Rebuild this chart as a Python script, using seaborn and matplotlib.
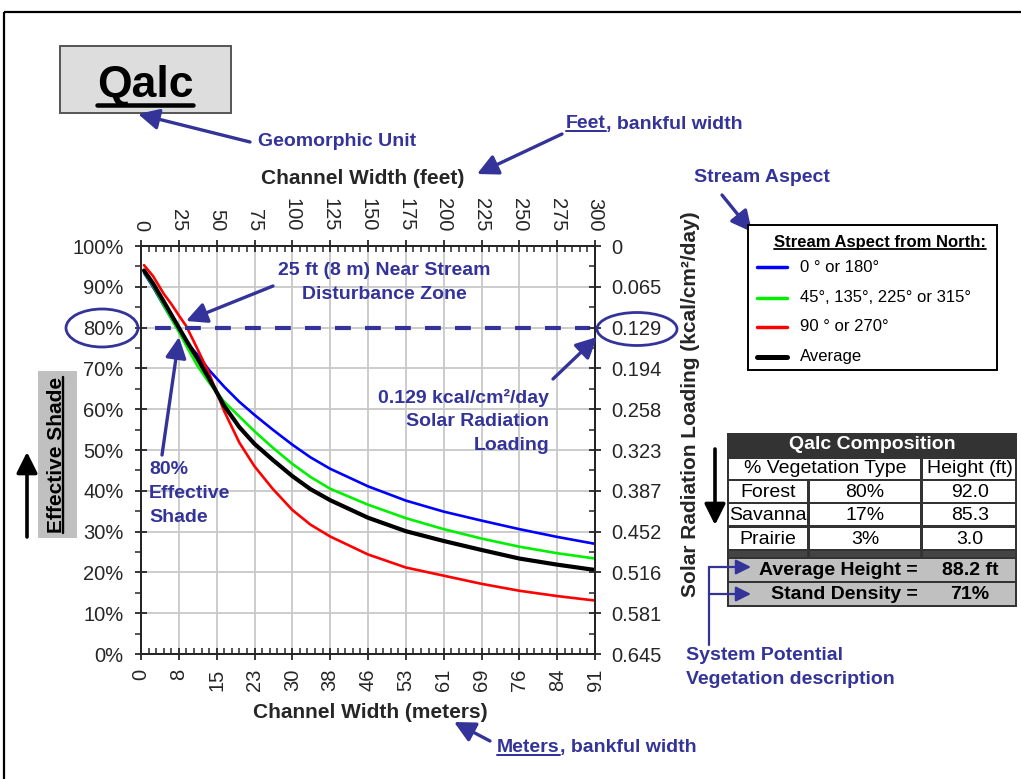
import numpy as np
import pandas as pd
import matplotlib
matplotlib.use("Agg")
import matplotlib.pyplot as plt
import seaborn as sns
from matplotlib.patches import Rectangle, Ellipse, FancyArrowPatch
from matplotlib.lines import Line2D
from matplotlib.transforms import Affine2D, IdentityTransform
from matplotlib.ticker import MultipleLocator, FuncFormatter

# ---------------------------------------------------------------- data
width_ft = [2, 8, 15, 20, 25, 30, 37, 45, 55, 65, 75, 87, 100, 112, 125,
            150, 175, 200, 225, 250, 275, 300]
shade_0_180 = [93.4, 89.9, 85.4, 82.3, 79.2, 76.4, 73.5, 69.6, 65.5, 61.8, 58.6,
               55.0, 51.3, 48.2, 45.4, 41.1, 37.6, 34.9, 32.7, 30.6, 28.7, 27.0]
shade_45_135 = [93.6, 90.2, 85.5, 82.2, 79.0, 75.5, 70.8, 66.5, 61.8, 58.2, 54.6,
                50.6, 46.6, 43.4, 40.5, 36.6, 33.3, 30.6, 28.3, 26.3, 24.7, 23.4]
shade_90_270 = [95.3, 92.6, 88.3, 85.8, 83.0, 80.3, 75.0, 68.8, 59.5, 51.8, 46.0,
                40.5, 35.3, 31.7, 28.8, 24.4, 21.2, 19.2, 17.2, 15.5, 14.2, 13.1]
shade_average = [94.0, 90.8, 86.4, 83.2, 80.0, 76.8, 72.6, 67.5, 60.8, 55.6, 51.5,
                 47.6, 43.6, 40.4, 37.7, 33.4, 30.1, 27.7, 25.5, 23.4, 21.9, 20.6]

aspect_labels = ["0 ° or 180°", "45°, 135°, 225° or 315°", "90 ° or 270°", "Average"]
aspect_colors = ["#0000FF", "#00F000", "#FF0000", "#000000"]
aspect_widths = [1.9, 1.9, 1.9, 3.0]

target_shade = 80          # percent effective shade
target_load = "0.129"

ft_ticks = list(range(0, 301, 25))
ft_tick_labels = ["0", "25", "50", "75", "100", "125", "150", "175", "200",
                  "225", "250", "275", "300"]
meter_tick_labels = ["0", "8", "15", "23", "30", "38", "46", "53", "61", "69",
                     "76", "84", "91"]
shade_ticks = list(range(0, 101, 10))
solar_load_labels = ["0.645", "0.581", "0.516", "0.452", "0.387", "0.323",
                     "0.258", "0.194", "0.129", "0.065", "0"]

veg_types = ["Forest", "Savanna", "Prairie"]
veg_percent = ["80%", "17%", "3%"]
veg_height = ["92.0", "85.3", "3.0"]
average_height = "88.2 ft"
stand_density = "71%"
unit_name = "Qalc"

# ---------------------------------------------------------------- style
sns.set_style("white")
plt.rcParams["font.family"] = ["Liberation Sans", "DejaVu Sans"]
ANN = "#333399"

W, H = 1021, 779
fig = plt.figure(figsize=(W / 100, H / 100), dpi=100)
fig.patch.set_facecolor("white")
# pixel coordinates, origin at the top-left corner
PX = Affine2D().scale(1 / W, -1 / H).translate(0, 1) + fig.transFigure
renderer = fig.canvas.get_renderer()
underlines = []


def ptext(x, y, s, **kw):
    kw.setdefault("fontsize", 14)
    kw.setdefault("fontweight", "bold")
    kw.setdefault("color", ANN)
    kw.setdefault("va", "center")
    return fig.text(x, y, s, transform=PX, **kw)


def parrow(tail, head, color=ANN, lw=2.4, ms=18):
    fig.add_artist(FancyArrowPatch(tail, head, transform=PX,
                                   arrowstyle="-|>,head_length=0.7,head_width=0.35",
                                   mutation_scale=ms, lw=lw, color=color,
                                   shrinkA=0, shrinkB=0))


def prect(x0, y0, x1, y1, fc, ec="none", lw=0, z=1):
    fig.add_artist(Rectangle((x0, y0), x1 - x0, y1 - y0, transform=PX,
                             facecolor=fc, edgecolor=ec, lw=lw, zorder=z))


# outer frame
fig.add_artist(Rectangle((4, 12), 1100, 900, transform=PX, fill=False,
                         edgecolor="black", lw=1.6))

# ---------------------------------------------------------------- main axes
ax = fig.add_axes([141 / W, 1 - 654 / H, 454 / W, 408 / H])
df = pd.DataFrame({
    "width_ft": width_ft * 4,
    "shade": shade_0_180 + shade_45_135 + shade_90_270 + shade_average,
    "aspect": sum([[lab] * len(width_ft) for lab in aspect_labels], []),
})
sns.lineplot(data=df, x="width_ft", y="shade", hue="aspect", size="aspect",
             hue_order=aspect_labels, size_order=aspect_labels,
             palette=dict(zip(aspect_labels, aspect_colors)),
             sizes=dict(zip(aspect_labels, aspect_widths)),
             estimator=None, sort=False, legend=False, ax=ax, zorder=3)
ax.hlines(target_shade, 9, 297, colors=ANN, lw=3.0, linestyles=(0, (3.8, 3.4)),
          zorder=4)

ax.set_xlim(0, 300)
ax.set_ylim(0, 100)
ax.set_xticks(ft_ticks, labels=meter_tick_labels)
ax.set_yticks(shade_ticks)
ax.yaxis.set_major_formatter(FuncFormatter(lambda v, p: f"{v:.0f}%"))
ax.xaxis.set_minor_locator(MultipleLocator(5))
ax.yaxis.set_minor_locator(MultipleLocator(5))
ax.grid(True, which="major", color="#C8C8C8", lw=1.3)
ax.set_axisbelow(True)
for s in ax.spines.values():
    s.set_color("black")
    s.set_linewidth(1.4)
ax.tick_params(axis="x", which="major", direction="inout", length=9, width=1.3,
               labelsize=14.5, labelrotation=90, pad=6)
ax.tick_params(axis="x", which="minor", direction="in", length=4.5, width=1.1)
ax.tick_params(axis="y", which="major", direction="inout", length=9, width=1.3,
               labelsize=14.5, pad=8)
ax.tick_params(axis="y", which="minor", direction="out", length=4.5, width=1.1)
ax.set_xlabel("Channel Width (meters)", fontsize=15, fontweight="bold")
ax.xaxis.set_label_coords((370 - 141) / 454, (654 - 713) / 408)
ax.xaxis.label.set_va("center")
ax.set_ylabel("")

# right axis: solar radiation loading
ax2 = ax.twinx()
ax2.set_ylim(0, 100)
ax2.set_yticks(shade_ticks, labels=solar_load_labels)
ax2.yaxis.set_minor_locator(MultipleLocator(5))
ax2.tick_params(axis="y", which="major", direction="inout", length=9, width=1.3,
                labelsize=14.5, pad=7)
ax2.tick_params(axis="y", which="minor", direction="in", length=4.5, width=1.1)
ax2.set_ylabel("Solar Radiation Loading (kcal/cm²/day)", fontsize=15,
               fontweight="bold", rotation=90)
ax2.yaxis.set_label_coords((690 - 141) / 454, (654 - 404) / 408)
ax2.yaxis.label.set(va="center", ha="center")
for s in ax2.spines.values():
    s.set_linewidth(1.4)

# top axis: feet
ax3 = ax.twiny()
ax3.set_xlim(0, 300)
ax3.set_xticks(ft_ticks, labels=ft_tick_labels)
ax3.xaxis.set_minor_locator(MultipleLocator(5))
ax3.tick_params(axis="x", which="major", direction="inout", length=9, width=1.3,
                labelsize=14.5, labelrotation=-90, pad=6)
ax3.tick_params(axis="x", which="minor", direction="in", length=4.5, width=1.1)
ax3.set_xlabel("Channel Width (feet)", fontsize=15, fontweight="bold")
ax3.xaxis.set_label_coords((363 - 141) / 454, (654 - 178) / 408)
ax3.xaxis.label.set_va("center")
for s in ax3.spines.values():
    s.set_linewidth(1.4)

# ---------------------------------------------------------------- unit box
prect(60, 46, 231, 113, "#DDDDDD", ec="#555555", lw=1.4)
t = ptext(145, 97, unit_name, fontsize=32, color="black", ha="center", va="baseline")
underlines.append((t, "black", 4.5, 0.03, False))
ptext(258, 142, "Geomorphic Unit")
parrow((250, 142), (138, 114))

# feet annotation
t = ptext(566, 124, "Feet")
underlines.append((t, ANN, 2.0, 0.08, False))
bb = t.get_window_extent(renderer)
ptext(bb.x1, 124, ", bankful width")
parrow((562, 134), (477, 174))

# meters annotation
t = ptext(497, 748, "Meters")
underlines.append((t, ANN, 2.0, 0.08, False))
bb = t.get_window_extent(renderer)
ptext(bb.x1, 748, ", bankful width")
parrow((490, 741), (454, 722))

# stream aspect
ptext(694, 177, "Stream Aspect")
parrow((722, 195), (752, 232))

# disturbance zone
ptext(384, 271, "25 ft (8 m) Near Stream", ha="center")
ptext(384, 295, "Disturbance Zone", ha="center")
parrow((273, 286), (186, 321))

# solar loading note
ptext(549, 398, f"{target_load} kcal/cm²/day", ha="right")
ptext(549, 422, "Solar Radiation", ha="right")
ptext(549, 446, "Loading", ha="right")
parrow((553, 379), (597, 337))

# effective shade note
ptext(149, 470, f"{target_shade}%")
ptext(149, 494, "Effective")
ptext(149, 518, "Shade")
parrow((162, 455), (179, 337))

# ellipses around the target values
for cx, cy, w, h in [(102, 328, 72, 38), (637, 329, 80, 33)]:
    fig.add_artist(Ellipse((cx, cy), w, h, transform=PX, fill=False,
                           edgecolor=ANN, lw=2.0))

# left label with gray panel
prect(38, 371, 77, 538, "#C0C0C0")
t = ptext(56, 455, "Effective Shade", fontsize=15, color="black", ha="center",
          rotation=90)
underlines.append((t, "black", 2.4, 0.10, True))
parrow((27, 537), (27, 452), color="black", lw=2.6)
parrow((715, 449), (715, 525), color="black", lw=2.6)

# ---------------------------------------------------------------- legend
prect(748, 225, 997, 370, "white", ec="black", lw=1.4, z=2)
t = ptext(880, 243, "Stream Aspect from North:", fontsize=12, color="black",
          ha="center", zorder=3)
underlines.append((t, "black", 1.8, 0.08, False))
for lab, col, lw_, y in zip(aspect_labels, aspect_colors, aspect_widths,
                            [267, 298, 327, 357]):
    fig.add_artist(Line2D([757, 787], [y, y], transform=PX, color=col,
                          lw=lw_ + 0.6, zorder=3))
    ptext(800, y, lab, fontsize=12, fontweight="normal", color="black", zorder=3)

# ---------------------------------------------------------------- table
tx0, tx1 = 727, 1017
prect(tx0, 433, tx1, 607, "#333333")
ptext((tx0 + tx1) / 2, 445, f"{unit_name} Composition", color="white",
      ha="center", fontsize=14)
prect(729, 459, 920, 479, "white")
prect(923, 459, 1015, 479, "white")
ptext(825, 469, "% Vegetation Type", color="black", fontweight="normal",
      ha="center")
ptext(970, 469, "Height (ft)", color="black", fontweight="normal", ha="center")
row_tops = [481, 504, 528]
for y0, vt, vp, vh in zip(row_tops, veg_types, veg_percent, veg_height):
    y1 = y0 + 21
    prect(729, y0, 807, y1, "white")
    prect(810, y0, 920, y1, "white")
    prect(923, y0, 1015, y1, "white")
    yc = (y0 + y1) / 2 + 1
    ptext(768, yc, vt, color="black", fontweight="normal", ha="center")
    ptext(865, yc, vp, color="black", fontweight="normal", ha="center")
    ptext(970, yc, vh, color="black", fontweight="normal", ha="center")
prect(729, 551, 807, 557, "#444444")
prect(810, 551, 920, 557, "#444444")
prect(923, 551, 1015, 557, "#444444")
for y0, lab, val in [(559, "Average Height =", average_height),
                     (583, "Stand Density =", stand_density)]:
    prect(729, y0, 1015, y0 + 22, "#C0C0C0")
    ptext(918, y0 + 12, lab, color="black", ha="right")
    ptext(970, y0 + 12, val, color="black", ha="center")

# vegetation description bracket
fig.add_artist(Line2D([709, 709], [567, 645], transform=PX, color=ANN, lw=1.6))
parrow((709, 567), (751, 567), lw=1.6, ms=13)
parrow((709, 594), (751, 594), lw=1.6, ms=13)
ptext(686, 656, "System Potential")
ptext(686, 680, "Vegetation description")

# ---------------------------------------------------------------- underlines
for t, color, thick, off, vertical in underlines:
    bb = t.get_window_extent(renderer)
    em = t.get_fontsize() * fig.dpi / 72
    if vertical:
        x = bb.x1 - off * em
        fig.add_artist(Line2D([x, x], [bb.y0, bb.y1], transform=IdentityTransform(),
                              color=color, lw=thick * 0.72, zorder=5))
    else:
        y = bb.y0 + off * em
        fig.add_artist(Line2D([bb.x0, bb.x1], [y, y], transform=IdentityTransform(),
                              color=color, lw=thick * 0.72, zorder=5))

fig.savefig("out.png", dpi=100, facecolor="white")
